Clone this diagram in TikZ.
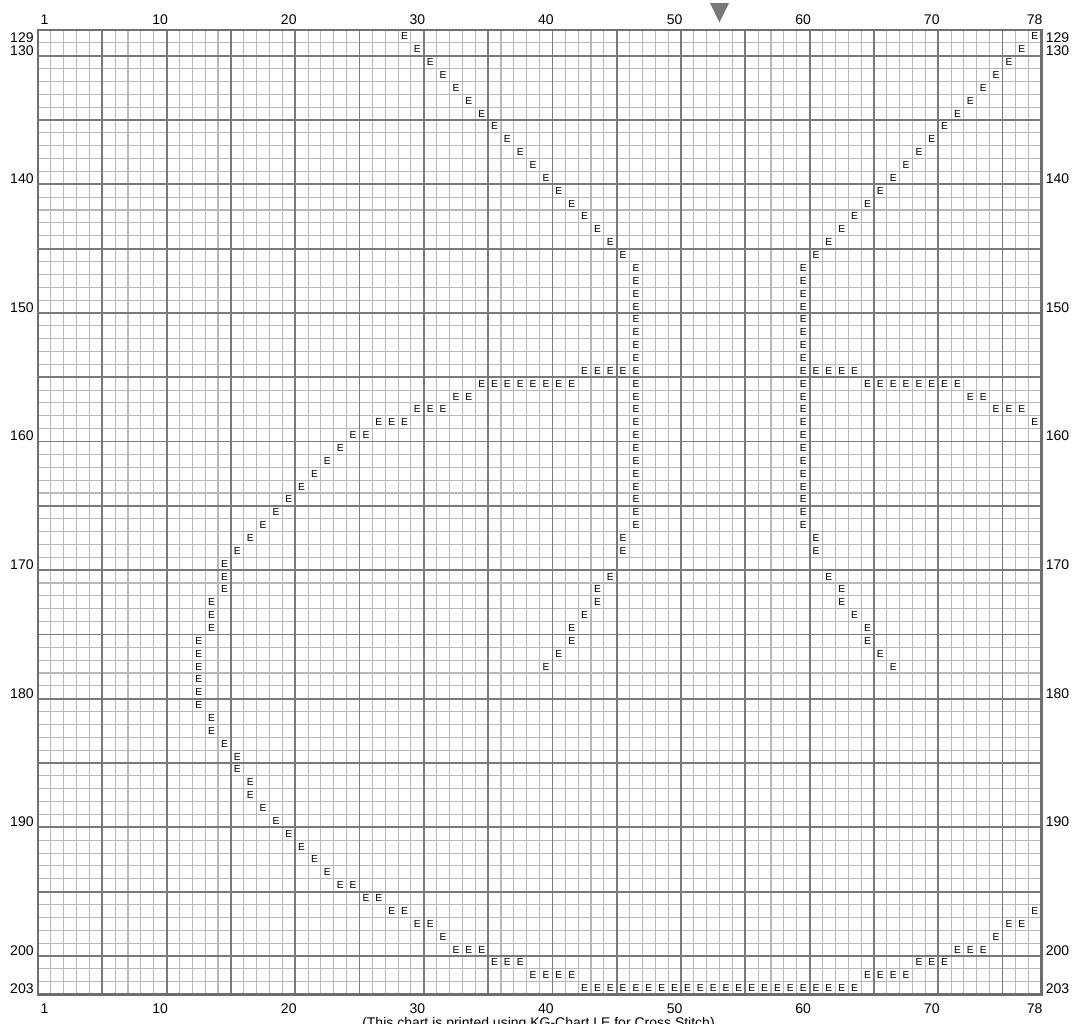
\documentclass[tikz,border=0pt]{standalone}
\usepackage{fontspec}
\setmainfont{Liberation Sans}
\definecolor{thinc}{RGB}{184,184,184}
\definecolor{heavyc}{RGB}{122,122,122}
\definecolor{borderc}{RGB}{110,110,110}
\definecolor{markc}{RGB}{120,120,120}
% place one stitch at column #1, row #2, plus its mirror about column 53.5
\newcommand\stx[2]{%
  \node[stitch] (s-#2-#1) at ({38+(#1-0.5)*12.86},{30+(#2-128.5)*12.86}) {E};
  \pgfmathtruncatemacro\mirc{107-#1}%
  \ifnum\mirc<79
    \node[stitch] (m-#2-#1) at ({38+(\mirc-0.5)*12.86},{30+(#2-128.5)*12.86}) {E};
  \fi}
\begin{document}
\begin{tikzpicture}[x=1pt,y=-1pt,
  stitch/.style={font=\fontsize{10.2}{10.2}\selectfont, inner sep=0pt, text=black},
  lab/.style={font=\fontsize{14}{14}\selectfont, inner sep=0pt, text=black},
  thinline/.style={draw=thinc, line width=1.1pt},
  heavyline/.style={draw=heavyc, line width=1.8pt},
  frameline/.style={draw=borderc, line width=2.8pt}]
\useasboundingbox (0,0) rectangle (1076,1023);
\fill[white] (0,0) rectangle (1076,1023);
% thin grid
\foreach \i in {0,...,78}
  \draw[thinline] ({38+\i*12.86},30) -- ({38+\i*12.86},994.5);
\foreach \j in {0,...,75}
  \draw[thinline] (38,{30+\j*12.86}) -- (1041.1,{30+\j*12.86});
% heavy grid
\foreach \i in {5,10,...,75}
  \draw[heavyline] ({38+\i*12.86},30) -- ({38+\i*12.86},994.5);
\foreach \j in {2,7,...,72}
  \draw[heavyline] (38,{30+\j*12.86}) -- (1041.1,{30+\j*12.86});
% frame
\draw[frameline] (38,30) rectangle (1041.1,994.5);
% centre marker
\fill[markc] (710,3) -- (729,3) -- (719.5,22.5) -- cycle;
% column labels
\foreach \c in {1,10,20,30,40,50,60,70,78} {
  \node[lab] (top-\c) at ({38+(\c-0.5)*12.86},19.5) {\c};
  \node[lab] (bot-\c) at ({38+(\c-0.5)*12.86},1009) {\c};
}
% row labels
\foreach \r in {129,130,140,150,160,170,180,190,200,203} {
  \node[lab,anchor=east] (left-\r) at (33.8,{31+(\r-128.5)*12.86}) {\r};
  \node[lab,anchor=west] (right-\r) at (1045.6,{31+(\r-128.5)*12.86}) {\r};
}
% stitches: upper diagonals
\foreach \r in {129,...,146} {
  \pgfmathtruncatemacro\cc{\r-100}
  \stx{\cc}{\r}
}
% verticals
\foreach \r in {147,...,167} { \stx{47}{\r} }
% ranges row/from/to
\foreach \r/\a/\b in {155/43/46, 156/35/42, 157/33/34, 158/30/32, 159/27/29,
  160/25/26, 161/24/24, 162/23/23, 163/22/22, 164/21/21, 165/20/20,
  166/19/19, 167/18/18, 168/17/17, 169/16/16, 170/15/15, 171/15/15,
  172/15/15, 173/14/14, 174/14/14, 175/14/14, 176/13/13, 177/13/13,
  178/13/13, 179/13/13, 180/13/13, 181/13/13, 182/14/14, 183/14/14,
  184/15/15, 185/16/16, 186/16/16, 187/17/17, 188/17/17, 189/18/18,
  190/19/19, 191/20/20, 192/21/21, 193/22/22, 194/23/23, 195/24/25,
  196/26/27, 197/28/29, 198/30/31, 199/32/32, 200/33/35, 201/36/38,
  202/39/42, 203/43/53,
  168/46/46, 169/46/46, 171/45/45, 172/44/44, 173/44/44, 174/43/43,
  175/42/42, 176/42/42, 177/41/41, 178/40/40} {
  \foreach \c in {\a,...,\b} { \stx{\c}{\r} }
}
% footer
\node[lab,anchor=base] (footer) at (538.5,1027.5) {(This chart is printed using KG-Chart LE for Cross Stitch)};
\end{tikzpicture}
\end{document}
